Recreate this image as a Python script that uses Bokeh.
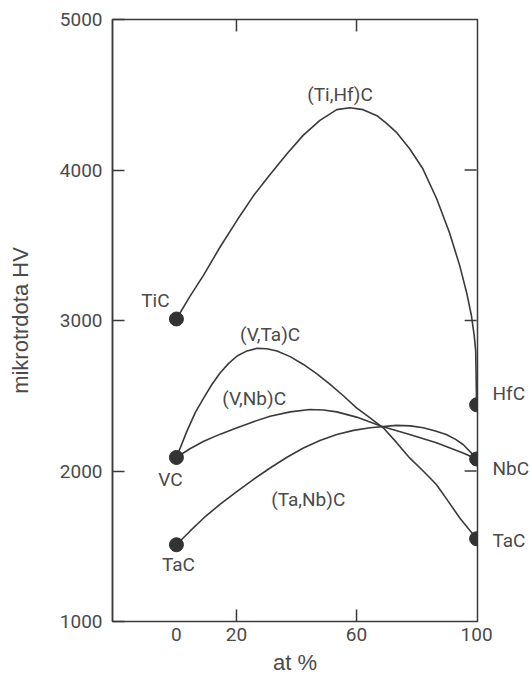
from bokeh.plotting import figure
from bokeh.models import Range1d, LinearAxis, FixedTicker, Label
from bokeh.embed import file_html
from bokeh.resources import INLINE

# ---- data ----
x_tick_labels = [0, 20, 60, 100]
x_tick_marks = [20, 60]
y_ticks = [1000, 2000, 3000, 4000, 5000]
y_tick_marks_right = [2000, 3000, 4000]

end_names = ["TiC", "VC", "TaC", "HfC", "NbC", "TaC"]
end_x = [0, 0, 0, 100, 100, 100]
end_hv = [3010, 2090, 1510, 2440, 2080, 1550]

tihf_x = [0, 4.5, 9.0, 14.6, 20.3, 25.7, 31.2, 36.7, 42.2, 47.8, 53.4, 57.8, 62.2, 66.8, 70.0,
          73.4, 77.7, 82.1, 86.7, 91.0, 94.4, 96.7, 98.3, 99.2, 99.7, 100]
tihf_hv = [3010, 3160, 3300, 3490, 3669, 3830, 3970, 4105, 4230, 4330, 4401, 4414, 4401, 4361, 4310,
           4248, 4141, 4008, 3809, 3582, 3363, 3183, 3030, 2900, 2797, 2440]

vta_x = [0, 3.5, 6.3, 9.1, 11.8, 14.6, 17.4, 20.2, 23.5, 26.8, 30.1, 33.5, 37.9, 42.3, 46.8, 51.2,
         55.6, 60.0, 64.5, 68.9, 73.3, 77.7, 82.2, 86.6, 90.5, 94.4, 100]
vta_hv = [2090, 2265, 2390, 2486, 2575, 2653, 2715, 2764, 2798, 2815, 2812, 2797, 2760, 2708, 2645, 2575,
          2500, 2420, 2353, 2287, 2190, 2087, 2000, 1910, 1800, 1688, 1550]

vnb_x = [0, 4.5, 9.1, 14.6, 20.2, 25.7, 31.2, 37.9, 44.5, 49.0, 53.4, 60.0, 68.3, 77.7, 86.6, 95.5, 100]
vnb_hv = [2090, 2148, 2198, 2245, 2287, 2328, 2364, 2393, 2409, 2405, 2393, 2358, 2298, 2243, 2187, 2120, 2080]

tanb_x = [0, 4.5, 9.1, 14.6, 20.2, 25.7, 31.2, 36.7, 42.3, 47.8, 53.4, 59.0, 64.5, 73.3, 78.0, 82.2,
          86.0, 89.9, 93.0, 95.5, 98.8, 100]
tanb_hv = [1510, 1600, 1688, 1780, 1865, 1945, 2020, 2090, 2153, 2203, 2243, 2270, 2287, 2303, 2300, 2287,
           2268, 2243, 2210, 2176, 2109, 2080]

curve_names = ["(Ti,Hf)C", "(V,Ta)C", "(V,Nb)C", "(Ta,Nb)C"]
curve_name_x = [54.5, 31.2, 25.9, 43.9]
curve_name_hv = [4501, 2910, 2484, 1812]

# names of the right-hand end members, shown beside the frame
right_names = ["HfC", "NbC", "TaC"]
right_name_hv = [2517, 2018, 1539]

# ---- style ----
LINE = "#3a3a3a"
TXT = "#4a4a4a"
FONT = "Roboto"
LFONT = "Liberation Sans"
X0, X1, Y0, Y1 = -21.3, 100.3, 1000, 5000
FW, FH = 366, 602          # frame size in px
TICK_PX = 12

p = figure(width=532, height=682, x_range=Range1d(X0, X1), y_range=Range1d(Y0, Y1),
           output_backend="svg", toolbar_location=None,
           x_axis_location=None, y_axis_location=None,
           min_border_left=112, min_border_right=54, min_border_top=19, min_border_bottom=61)
p.xgrid.visible = False
p.ygrid.visible = False
p.outline_line_color = LINE
p.outline_line_width = 1.5
p.background_fill_color = "white"
p.border_fill_color = "white"

left = LinearAxis(ticker=FixedTicker(ticks=y_ticks), major_tick_in=TICK_PX, major_tick_out=0,
                  major_tick_line_color=LINE, major_tick_line_width=1.5,
                  minor_tick_line_color=None, axis_line_color=LINE, axis_line_width=1.5,
                  major_label_text_font=FONT, major_label_text_font_size="19px",
                  major_label_text_color=TXT, major_label_standoff=10,
                  axis_label="mikrotrdota HV", axis_label_text_font=LFONT,
                  axis_label_text_font_size="22px", axis_label_text_font_style="normal",
                  axis_label_text_color=TXT, axis_label_standoff=24)
p.add_layout(left, "left")

bottom = LinearAxis(ticker=FixedTicker(ticks=x_tick_labels), major_tick_in=0, major_tick_out=0,
                    axis_line_color=None, minor_tick_line_color=None,
                    major_label_text_font=FONT, major_label_text_font_size="19px",
                    major_label_text_color=TXT, major_label_standoff=6,
                    axis_label="at %", axis_label_text_font=LFONT,
                    axis_label_text_font_size="22px", axis_label_text_font_style="normal",
                    axis_label_text_color=TXT, axis_label_standoff=6)
p.add_layout(bottom, "below")

right = LinearAxis(ticker=FixedTicker(ticks=right_name_hv), major_tick_in=0, major_tick_out=0,
                   axis_line_color=None, minor_tick_line_color=None,
                   major_label_overrides={v: n for v, n in zip(right_name_hv, right_names)},
                   major_label_text_font=FONT, major_label_text_font_size="19px",
                   major_label_text_color=TXT, major_label_standoff=15)
p.add_layout(right, "right")

# inward tick marks on top, bottom and right frame edges (12 px long)
dx = TICK_PX * (X1 - X0) / FW
dy = TICK_PX * (Y1 - Y0) / FH
TICK = dict(line_color=LINE, line_width=1.5)
n = len(x_tick_marks)
p.segment(x0=x_tick_marks, y0=[Y1] * n, x1=x_tick_marks, y1=[Y1 - dy] * n, **TICK)
p.segment(x0=x_tick_marks, y0=[Y0] * n, x1=x_tick_marks, y1=[Y0 + dy] * n, **TICK)
m = len(y_tick_marks_right)
p.segment(x0=[100] * m, y0=y_tick_marks_right, x1=[100 - dx] * m, y1=y_tick_marks_right, **TICK)

for xs, ys in [(tihf_x, tihf_hv), (vta_x, vta_hv), (vnb_x, vnb_hv), (tanb_x, tanb_hv)]:
    p.line(xs, ys, line_color=LINE, line_width=1.6)

p.scatter(end_x, end_hv, size=14, color="#333333")

end_offsets = [(-21, 18), (-6, -22), (2, -20)]
for name, xv, yv, (ox, oy) in zip(end_names[:3], end_x[:3], end_hv[:3], end_offsets):
    p.add_layout(Label(x=xv, y=yv, x_offset=ox, y_offset=oy, text=name, text_align="center",
                       text_baseline="middle", text_font=FONT, text_font_size="19px",
                       text_color=TXT))

for name, xv, yv in zip(curve_names, curve_name_x, curve_name_hv):
    p.add_layout(Label(x=xv, y=yv, text=name, text_align="center", text_baseline="middle",
                       text_font=FONT, text_font_size="19px", text_color=TXT))

open("out.html", "w").write(file_html(p, INLINE))
